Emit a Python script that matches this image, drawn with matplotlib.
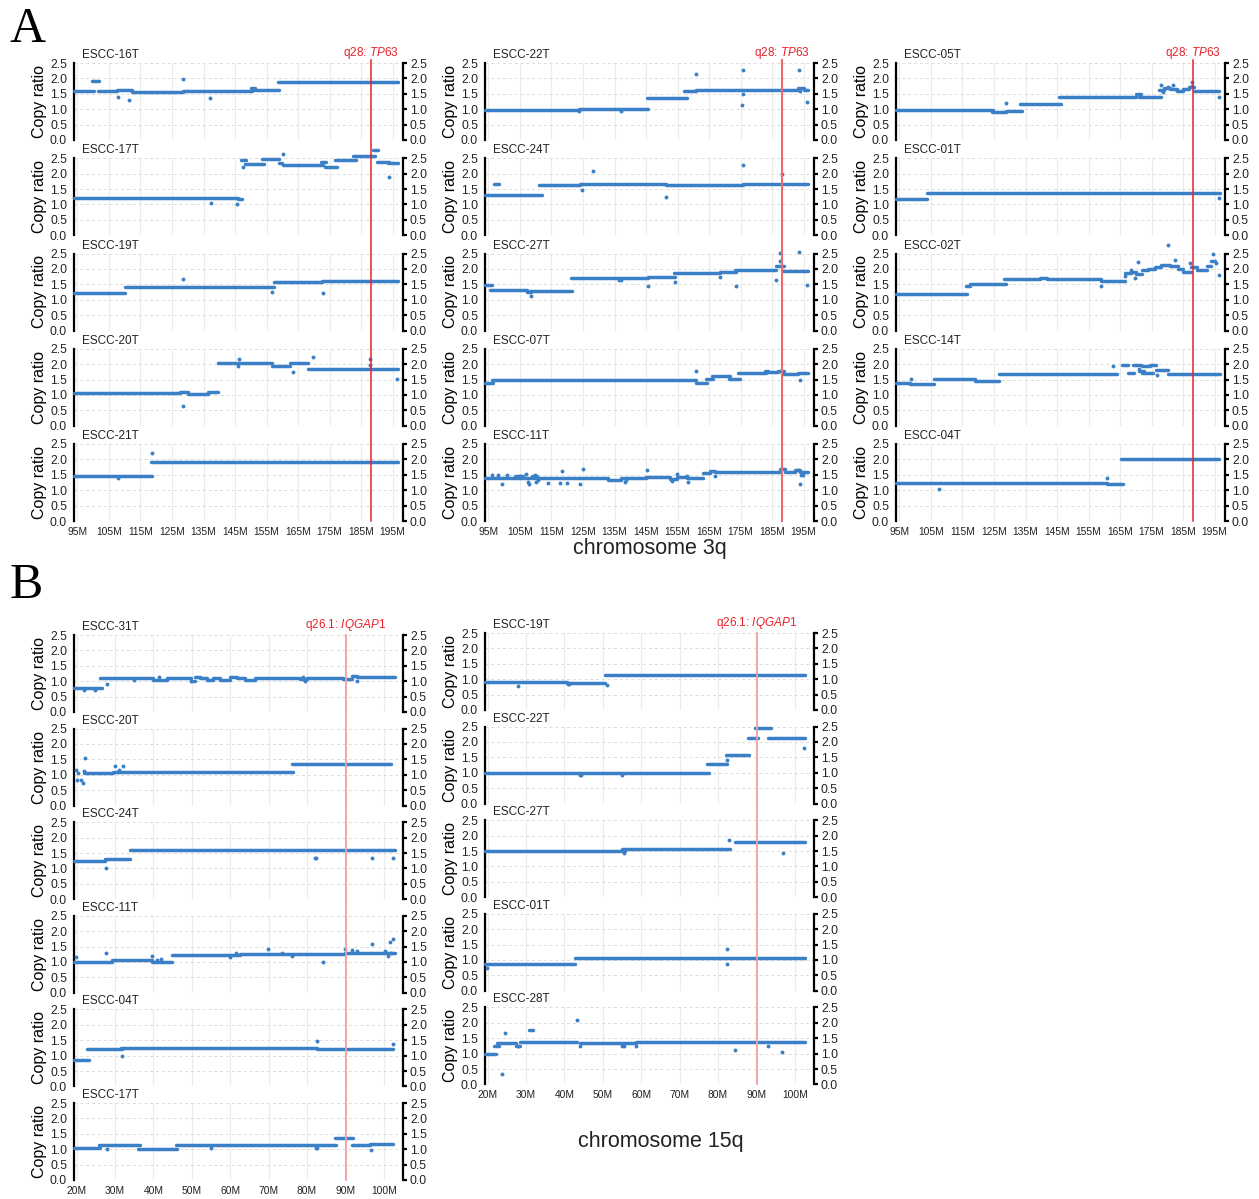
import matplotlib
matplotlib.use("Agg")
import matplotlib.pyplot as plt
from matplotlib.lines import Line2D
from matplotlib.transforms import blended_transform_factory

plt.rcParams['font.family'] = ['Liberation Sans', 'DejaVu Sans']
plt.rcParams['mathtext.fontset'] = 'custom'
plt.rcParams['mathtext.it'] = 'Liberation Sans:italic'
plt.rcParams['mathtext.rm'] = 'Liberation Sans'

# ---------------- data: chromosome 3q (panel A) ----------------
# segments: (start Mb, end Mb, copy ratio); points: (pos Mb, copy ratio)
c3_16T_seg = [(94.0, 100.2, 1.60), (99.6, 101.8, 1.90), (101.5, 107.4, 1.60), (107.4, 112.2, 1.62),
              (112.2, 128.5, 1.55), (128.6, 150.4, 1.60), (150.2, 151.2, 1.70), (151.0, 159.0, 1.61),
              (158.6, 196.6, 1.88)]
c3_16T_pts = [(107.8, 1.41), (111.5, 1.30), (128.4, 1.98), (137.2, 1.37)]

c3_17T_seg = [(94.0, 145.8, 1.20), (145.8, 147.2, 1.18), (147.0, 148.4, 2.45), (148.1, 154.2, 2.31),
              (153.6, 159.0, 2.46), (158.9, 160.0, 2.33), (160.3, 172.8, 2.28), (172.4, 173.9, 2.39),
              (173.5, 177.5, 2.20), (176.7, 183.4, 2.44), (182.5, 189.4, 2.58), (188.9, 190.4, 2.76),
              (189.9, 193.9, 2.39), (193.6, 196.6, 2.36)]
c3_17T_pts = [(137.3, 1.06), (145.7, 1.03), (147.4, 2.22), (160.3, 2.63), (193.8, 1.90)]

c3_19T_seg = [(94.0, 110.1, 1.21), (110.1, 157.4, 1.40), (157.4, 172.6, 1.57), (172.6, 196.6, 1.60)]
c3_19T_pts = [(128.5, 1.66), (156.7, 1.26), (172.9, 1.22)]

c3_20T_seg = [(94.0, 127.5, 1.05), (127.5, 130.1, 1.10), (130.1, 136.5, 1.04), (136.5, 139.6, 1.08),
              (139.6, 156.7, 2.03), (156.7, 162.4, 1.93), (162.4, 168.1, 2.03), (168.1, 196.6, 1.84)]
c3_20T_pts = [(128.5, 0.65), (146.2, 2.16), (146.0, 1.95), (163.4, 1.75), (169.7, 2.23),
              (187.8, 2.17), (187.8, 1.97), (196.3, 1.52)]

c3_21T_seg = [(94.0, 118.7, 1.47), (118.3, 196.6, 1.92)]
c3_21T_pts = [(108.0, 1.40), (118.5, 2.20)]

c3_22T_seg = [(93.9, 123.8, 0.99), (123.8, 145.7, 1.02), (145.2, 157.9, 1.37), (157.1, 161.0, 1.60),
              (160.8, 193.3, 1.63), (193.3, 195.0, 1.69), (195.0, 196.4, 1.61)]
c3_22T_pts = [(123.8, 0.93), (136.9, 0.93), (160.9, 2.14), (175.8, 2.26), (175.8, 1.48), (175.6, 1.13),
              (193.5, 2.26), (194.0, 1.60), (196.1, 1.23)]

c3_24T_seg = [(93.9, 97.1, 1.32), (96.7, 98.5, 1.67), (97.1, 111.9, 1.32), (111.1, 124.0, 1.64),
              (124.0, 151.3, 1.66), (151.3, 175.8, 1.63), (175.8, 196.5, 1.65)]
c3_24T_pts = [(124.8, 1.47), (128.3, 2.10), (151.3, 1.25), (175.7, 2.27), (188.3, 2.00)]

c3_27T_seg = [(93.9, 96.0, 1.47), (95.5, 107.1, 1.33), (107.1, 108.5, 1.25), (108.2, 121.6, 1.28),
              (121.1, 145.7, 1.72), (145.7, 154.1, 1.74), (153.8, 168.4, 1.88), (168.4, 173.5, 1.90),
              (173.2, 186.2, 1.95), (186.4, 188.8, 2.08), (188.3, 196.4, 1.93)]
c3_27T_pts = [(108.5, 1.13), (136.4, 1.63), (137.2, 1.63), (145.7, 1.45), (154.1, 1.58), (168.4, 1.75),
              (173.5, 1.46), (186.4, 1.63), (187.4, 2.25), (187.4, 2.52), (193.5, 2.55), (196.1, 1.47)]

c3_07T_seg = [(93.9, 96.3, 1.40), (96.0, 160.8, 1.47), (160.9, 164.5, 1.40), (164.1, 166.4, 1.51),
              (166.0, 171.6, 1.61), (171.3, 174.8, 1.53), (174.2, 183.2, 1.71), (182.7, 183.8, 1.79),
              (183.2, 186.9, 1.73), (186.9, 188.7, 1.79), (188.3, 193.3, 1.69), (193.3, 196.4, 1.71)]
c3_07T_pts = [(160.9, 1.79), (193.8, 1.48)]

c3_11T_seg = [(93.9, 133.0, 1.38), (103.5, 106.0, 1.45), (108.8, 110.5, 1.47), (133.0, 137.0, 1.32),
              (137.0, 145.0, 1.38), (145.0, 152.5, 1.42), (152.5, 154.7, 1.35), (154.7, 157.9, 1.42),
              (157.9, 163.2, 1.38), (163.2, 165.3, 1.55), (165.3, 166.8, 1.63), (166.8, 187.4, 1.59),
              (187.4, 189.0, 1.70), (189.0, 192.2, 1.58), (192.2, 193.8, 1.65), (193.8, 196.4, 1.59)]
c3_11T_pts = [(96.0, 1.49), (98.1, 1.48), (99.2, 1.20), (101.0, 1.48), (105.0, 1.47), (106.9, 1.52),
              (107.6, 1.28), (108.0, 1.20), (109.8, 1.49), (110.1, 1.26), (110.8, 1.34), (114.0, 1.23),
              (117.7, 1.23), (118.2, 1.61), (119.8, 1.23), (124.2, 1.21), (125.1, 1.68), (138.3, 1.28),
              (138.8, 1.32), (145.4, 1.65), (153.1, 1.30), (154.7, 1.52), (157.9, 1.47), (158.4, 1.28),
              (166.8, 1.45), (193.1, 1.64), (193.8, 1.21), (194.3, 1.50), (194.8, 1.48)]

c3_05T_seg = [(93.9, 124.6, 0.97), (124.3, 128.9, 0.92), (128.7, 134.0, 0.95), (133.3, 146.2, 1.17),
              (145.7, 170.0, 1.39), (170.0, 171.6, 1.48), (171.1, 177.9, 1.39), (177.5, 179.0, 1.62),
              (179.0, 181.0, 1.69), (181.0, 183.0, 1.65), (183.0, 185.0, 1.59), (185.0, 187.0, 1.65),
              (187.0, 188.5, 1.72), (188.5, 196.4, 1.60)]
c3_05T_pts = [(128.8, 1.20), (178.0, 1.77), (178.5, 1.55), (180.2, 1.72), (181.8, 1.77), (183.0, 1.62),
              (187.9, 1.88), (187.9, 1.76), (196.3, 1.39)]

c3_01T_seg = [(93.9, 103.8, 1.19), (103.6, 196.7, 1.37)]
c3_01T_pts = [(196.4, 1.21)]

c3_02T_seg = [(93.9, 116.5, 1.18), (116.0, 117.5, 1.44), (117.3, 128.7, 1.50), (128.3, 139.6, 1.67),
              (139.6, 141.7, 1.72), (141.7, 159.1, 1.66), (159.1, 166.5, 1.62), (166.5, 168.5, 1.86),
              (168.5, 170.0, 1.90), (170.0, 172.0, 1.83), (172.0, 174.0, 1.95), (174.0, 176.0, 2.00),
              (176.0, 178.0, 2.07), (178.0, 181.0, 2.12), (181.0, 183.5, 2.08), (183.5, 185.0, 2.00),
              (185.0, 187.5, 1.90), (187.5, 189.5, 2.06), (189.5, 192.5, 1.97), (192.5, 194.0, 2.08),
              (194.0, 195.0, 2.25)]
c3_02T_pts = [(159.1, 1.44), (166.5, 1.76), (168.6, 1.98), (169.7, 1.71), (170.8, 2.21), (180.3, 2.78),
              (182.4, 2.29), (187.1, 2.20), (194.5, 2.47), (195.6, 2.18), (196.3, 1.81)]

c3_14T_seg = [(93.9, 98.3, 1.40), (98.3, 106.1, 1.37), (106.1, 119.0, 1.51), (119.0, 126.6, 1.46),
              (126.6, 163.9, 1.69), (165.5, 167.5, 1.98), (167.5, 169.5, 1.71), (169.0, 171.5, 1.97),
              (171.0, 172.5, 1.78), (172.0, 174.5, 1.93), (172.0, 175.5, 1.71), (174.5, 176.5, 1.96),
              (176.5, 180.3, 1.82), (180.3, 196.7, 1.69)]
c3_14T_pts = [(98.6, 1.52), (162.8, 1.94), (176.6, 1.66), (171.0, 1.85)]

c3_04T_seg = [(93.9, 160.7, 1.22), (160.7, 165.8, 1.21), (165.3, 196.4, 2.02)]
c3_04T_pts = [(107.6, 1.05), (160.9, 1.39)]

# ---------------- data: chromosome 15q (panel B) ----------------
c15_31T_seg = [(19.3, 26.5, 0.78), (26.1, 40.0, 1.12), (40.0, 43.4, 1.05), (43.4, 45.2, 1.10),
               (45.2, 49.9, 1.12), (49.9, 50.8, 1.02), (50.8, 52.1, 1.15), (52.1, 53.9, 1.10),
               (53.9, 55.6, 1.05), (55.6, 57.3, 1.12), (57.3, 59.9, 1.05), (59.9, 61.7, 1.15),
               (61.7, 63.8, 1.10), (63.8, 66.5, 1.05), (66.5, 78.2, 1.12), (78.2, 79.9, 1.07),
               (79.9, 89.5, 1.12), (89.5, 91.6, 1.07), (91.6, 93.0, 1.16), (93.0, 102.9, 1.14)]
c15_31T_pts = [(21.8, 0.72), (24.8, 0.72), (27.8, 0.90), (34.8, 1.05), (41.5, 1.15), (49.9, 1.00),
               (79.0, 1.15), (79.5, 1.02), (93.0, 1.00)]

c15_20T_seg = [(22.0, 29.5, 1.07), (29.5, 31.0, 1.10), (30.8, 76.4, 1.08), (76.2, 102.0, 1.36)]
c15_20T_pts = [(19.8, 1.14), (20.3, 1.05), (20.1, 0.84), (21.1, 0.84), (21.6, 0.75), (22.0, 1.13),
               (22.1, 1.53), (30.0, 1.27), (31.0, 1.15), (32.1, 1.27)]

c15_24T_seg = [(19.3, 27.4, 1.25), (27.4, 33.9, 1.30), (33.9, 102.9, 1.60)]
c15_24T_pts = [(27.6, 1.02), (82.0, 1.35), (82.3, 1.35), (96.9, 1.35), (102.4, 1.35)]

c15_11T_seg = [(19.3, 29.2, 1.01), (29.2, 39.6, 1.05), (39.6, 44.8, 1.00), (44.8, 62.5, 1.24),
               (62.5, 78.2, 1.27), (78.2, 89.9, 1.25), (89.9, 102.9, 1.28)]
c15_11T_pts = [(19.8, 1.15), (27.6, 1.30), (39.6, 1.20), (40.8, 1.08), (42.0, 1.10), (59.9, 1.15),
               (61.5, 1.30), (69.8, 1.42), (73.5, 1.30), (76.1, 1.20), (84.2, 1.00), (89.9, 1.42),
               (91.7, 1.40), (93.0, 1.35), (96.9, 1.60), (100.3, 1.35), (101.6, 1.65), (102.4, 1.75),
               (102.0, 1.30), (101.2, 1.20)]

c15_04T_seg = [(19.3, 23.3, 0.86), (22.8, 31.7, 1.22), (31.5, 82.5, 1.24), (82.5, 102.5, 1.22)]
c15_04T_pts = [(31.7, 1.00), (82.7, 1.48), (102.3, 1.38)]

c15_17T_seg = [(19.3, 26.2, 1.05), (25.9, 36.5, 1.14), (36.1, 46.1, 1.00), (45.9, 82.3, 1.14),
               (82.3, 87.6, 1.14), (87.2, 92.1, 1.37), (91.7, 96.5, 1.14), (96.5, 102.5, 1.16)]
c15_17T_pts = [(28.0, 1.00), (54.9, 1.03), (82.3, 1.05), (82.6, 1.05), (96.6, 0.97)]

c15_19T_seg = [(19.3, 40.6, 0.90), (40.6, 50.6, 0.89), (50.6, 102.7, 1.15)]
c15_19T_pts = [(28.0, 0.78), (40.9, 0.85), (41.2, 0.85), (51.0, 0.82)]

c15_22T_seg = [(19.3, 77.7, 1.00), (77.2, 82.4, 1.30), (82.2, 88.1, 1.57), (87.7, 90.3, 2.13),
               (89.7, 93.8, 2.47), (93.1, 102.6, 2.13)]
c15_22T_pts = [(44.0, 0.93), (44.3, 0.93), (55.1, 0.92), (82.4, 1.43), (102.4, 1.80)]

c15_27T_seg = [(19.3, 55.8, 1.50), (55.0, 83.1, 1.55), (84.4, 102.7, 1.80)]
c15_27T_pts = [(55.5, 1.45), (82.9, 1.85), (96.9, 1.45)]

c15_01T_seg = [(19.3, 42.7, 0.88), (42.7, 102.7, 1.05)]
c15_01T_pts = [(19.8, 0.75), (82.3, 1.35), (82.3, 0.88)]

c15_28T_seg = [(19.3, 22.2, 1.00), (21.6, 23.0, 1.25), (22.4, 24.7, 1.35), (24.7, 27.5, 1.33),
               (27.5, 28.5, 1.24), (28.4, 43.2, 1.37), (30.8, 31.9, 1.77), (44.0, 58.6, 1.35),
               (58.6, 102.7, 1.38)]
c15_28T_pts = [(23.8, 0.35), (24.5, 1.67), (28.0, 1.24), (43.2, 2.10), (44.0, 1.25), (55.0, 1.25),
               (55.6, 1.25), (58.6, 1.25), (84.4, 1.12), (93.1, 1.24), (96.6, 1.05)]

samples_3q = [["ESCC-16T", "ESCC-17T", "ESCC-19T", "ESCC-20T", "ESCC-21T"],
              ["ESCC-22T", "ESCC-24T", "ESCC-27T", "ESCC-07T", "ESCC-11T"],
              ["ESCC-05T", "ESCC-01T", "ESCC-02T", "ESCC-14T", "ESCC-04T"]]
samples_15q = [["ESCC-31T", "ESCC-20T", "ESCC-24T", "ESCC-11T", "ESCC-04T", "ESCC-17T"],
               ["ESCC-19T", "ESCC-22T", "ESCC-27T", "ESCC-01T", "ESCC-28T"]]

ticks_3q = [95, 105, 115, 125, 135, 145, 155, 165, 175, 185, 195]
ticks_15q = [20, 30, 40, 50, 60, 70, 80, 90, 100]
yticks = [0.0, 0.5, 1.0, 1.5, 2.0, 2.5]
tp63_pos = 188.2
iqgap1_pos = 90.07

# ---------------- drawing ----------------
BLUE = "#3b7fc6"
W, H = 1259, 1199
AX_W, AX_H = 329, 77
fig = plt.figure(figsize=(W / 100, H / 100), dpi=100)

G = globals()


def make_ax(left, top, xlim, xticks, show_x):
    ax = fig.add_axes([left / W, 1 - (top + AX_H) / H, AX_W / W, AX_H / H])
    ax.set_xlim(*xlim)
    ax.set_ylim(0, 2.5)
    ax.set_yticks(yticks)
    ax.set_yticklabels([f"{v:.1f}" for v in yticks])
    ax.set_xticks(xticks)
    ax.set_xticklabels([f"{v}M" for v in xticks] if show_x else [])
    for s in ("top", "bottom"):
        ax.spines[s].set_visible(False)
    ax.spines["left"].set_linestyle((0, (1, 1)))
    ax.spines["left"].set_linewidth(1.6)
    ax.spines["right"].set_linewidth(1.6)
    ax.tick_params(axis="y", left=False, right=True, labelleft=True, labelright=True,
                   direction="out", length=3, width=1.6, labelsize=8.8, pad=2,
                   labelcolor="#222222")
    ax.tick_params(axis="x", length=0, labelsize=7.4, pad=4, labelcolor="#222222")
    ax.yaxis.grid(True, ls=(0, (3, 3)), color="#dcdcdc", lw=0.7)
    ax.xaxis.grid(True, ls="-", color="#ebebeb", lw=0.8)
    ax.set_axisbelow(True)
    ax.set_ylabel("Copy ratio", fontsize=11.5)
    ax.yaxis.set_label_coords(-0.083, 0.5)
    return ax


def draw(ax, name, segs, pts):
    for x0, x1, y in segs:
        ax.plot([x0, x1], [y, y], color=BLUE, lw=2.5, solid_capstyle="round",
                clip_on=False, zorder=3)
    if pts:
        xs = [p[0] for p in pts]
        ys = [p[1] for p in pts]
        ax.plot(xs, ys, "o", ms=2.8, mew=0, color=BLUE, clip_on=False, zorder=3)
    ax.text(0.025, 1.025, name, transform=ax.transAxes, fontsize=8.5, va="bottom",
            ha="left", color="#222222")


def red_line(ax, xpos, ytop, ybot, color, lw, alpha=1.0):
    tr = blended_transform_factory(ax.transData, fig.transFigure)
    fig.add_artist(Line2D([xpos, xpos], [1 - ytop / H, 1 - ybot / H], transform=tr,
                          color=color, lw=lw, alpha=alpha, zorder=5))


# Panel A
colsA = [74, 485, 896]
redA = [("#e8222a", 1.1, 1.0), ("#ee6a6a", 1.5, 1.0), ("#e8222a", 1.1, 1.0)]
for c, names in enumerate(samples_3q):
    first = None
    for r, name in enumerate(names):
        top = 63 + 95.25 * r
        ax = make_ax(colsA[c], top, (93.9, 198.3), ticks_3q, r == len(names) - 1)
        key = "c3_" + name.split("-")[1]
        draw(ax, name, G[key + "_seg"], G[key + "_pts"])
        if first is None:
            first = ax
            tr = blended_transform_factory(ax.transData, ax.transAxes)
            ax.text(tp63_pos, 1.025, r"q28: $\mathit{TP63}$", transform=tr, color="#e8222a",
                    fontsize=8.5, ha="center", va="bottom")
    col, lw, al = redA[c]
    red_line(first, tp63_pos, 60, 521, col, lw, al)

fig.text(649.5 / W, 1 - 549 / H, "chromosome 3q", ha="center", va="center", fontsize=15.5,
         color="#222222")

# Panel B
colsB = [74, 485]
topsB = [635, 633]
for c, names in enumerate(samples_15q):
    first = None
    for r, name in enumerate(names):
        top = topsB[c] + 93.6 * r
        ax = make_ax(colsB[c], top, (19.3, 105.0), ticks_15q, r == len(names) - 1)
        key = "c15_" + name.split("-")[1]
        draw(ax, name, G[key + "_seg"], G[key + "_pts"])
        if first is None:
            first = ax
            tr = blended_transform_factory(ax.transData, ax.transAxes)
            ax.text(iqgap1_pos, 1.025, r"q26.1: $\mathit{IQGAP1}$", transform=tr,
                    color="#e8222a", fontsize=8.5, ha="center", va="bottom")
    ybot = topsB[c] + 93.6 * (len(names) - 1) + AX_H
    red_line(first, iqgap1_pos, topsB[c], ybot, "#f2a0a0", 1.3)

fig.text(661 / W, 1 - 1141 / H, "chromosome 15q", ha="center", va="center", fontsize=15.5,
         color="#222222")

fig.text(10 / W, 1 - 6 / H, "A", fontsize=36, family="Liberation Serif", va="top", ha="left")
fig.text(10 / W, 1 - 562 / H, "B", fontsize=36, family="Liberation Serif", va="top", ha="left")

fig.savefig("out.png", dpi=100)
